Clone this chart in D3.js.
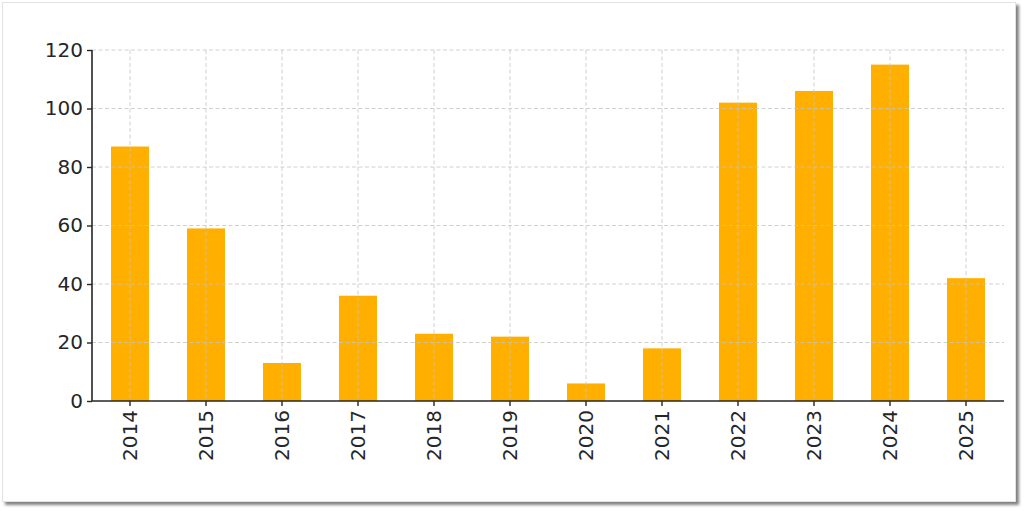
<!DOCTYPE html>
<html><head><meta charset="utf-8">
<script src="https://cdn.jsdelivr.net/npm/d3@7"></script>
<style>html,body{margin:0;padding:0;background:#fff;}svg{display:block;}</style>
</head><body>
<svg id="c" width="1024" height="511"></svg>
<script>
const categories = ["2014","2015","2016","2017","2018","2019","2020","2021","2022","2023","2024","2025"];
const values = [87,59,13,36,23,22,6,18,102,106,115,42];
const yTicks = [0,20,40,60,80,100,120];

(function(){
const svg = d3.select("#c");
// frame with shadow
const defs = svg.append("defs");
const f = defs.append("filter").attr("id","sh").attr("x","-5%").attr("y","-5%").attr("width","110%").attr("height","110%");
f.append("feGaussianBlur").attr("in","SourceAlpha").attr("stdDeviation",1.5).attr("result","b");
f.append("feOffset").attr("in","b").attr("dx",3).attr("dy",3).attr("result","o");
f.append("feComponentTransfer").attr("in","o").attr("result","o2").append("feFuncA").attr("type","linear").attr("slope",0.5);
const m = f.append("feMerge"); m.append("feMergeNode").attr("in","o2"); m.append("feMergeNode").attr("in","SourceGraphic");
svg.append("rect").attr("x",2.5).attr("y",2.5).attr("width",1013).attr("height",499)
  .attr("fill","#fff").attr("stroke","#e2e2e2").attr("stroke-width",1).attr("filter","url(#sh)");

const pL = 92, pR = 1004, pT = 50, pB = 401;
const x = d3.scaleBand().domain(categories).range([pL,pR]).paddingInner(0.5).paddingOuter(0.25);
const y = d3.scaleLinear().domain([0,120]).range([pB,pT]);

const g = svg.append("g");
// bars
g.selectAll("rect.bar").data(categories).enter().append("rect").attr("class","bar")
  .attr("x", d=>x(d)).attr("width", x.bandwidth())
  .attr("y", (d,i)=>y(values[i])).attr("height",(d,i)=>y(0)-y(values[i]))
  .attr("fill","#FFAF00");
// grid
g.selectAll("line.hg").data(yTicks.slice(1)).enter().append("line")
  .attr("x1",pL).attr("x2",pR).attr("y1",d=>y(d)).attr("y2",d=>y(d))
  .attr("stroke","#c4c4c4").attr("stroke-width",0.8).attr("stroke-dasharray","4,2.5");
g.selectAll("line.vg").data(categories).enter().append("line")
  .attr("x1",d=>x(d)+x.bandwidth()/2).attr("x2",d=>x(d)+x.bandwidth()/2).attr("y1",pT).attr("y2",pB)
  .attr("stroke","#c4c4c4").attr("stroke-width",0.8).attr("stroke-dasharray","4,2.5");

// axes
const yAx = g.append("g").attr("transform",`translate(${pL},0)`)
  .call(d3.axisLeft(y).tickValues(yTicks).tickSize(5).tickPadding(4));
const xAx = g.append("g").attr("transform",`translate(0,${pB})`)
  .call(d3.axisBottom(x).tickSize(5).tickPadding(6));
[yAx,xAx].forEach(a=>{
  a.select(".domain").attr("stroke","#262626").attr("stroke-width",1.6);
  a.selectAll(".tick line").attr("stroke","#262626").attr("stroke-width",1.4);
  a.selectAll("text").attr("fill","#262626").style("font-family","DejaVu Sans").style("font-size","20px");
});
yAx.select(".domain").attr("d",`M0,${pB}V${pT}`);
xAx.select(".domain").attr("d",`M${pL},0H${pR}`);
xAx.selectAll(".tick text").attr("transform","rotate(-90)").attr("text-anchor","end")
  .attr("x",-9).attr("y",0).attr("dy","0.35em");
})();
</script>
</body></html>
